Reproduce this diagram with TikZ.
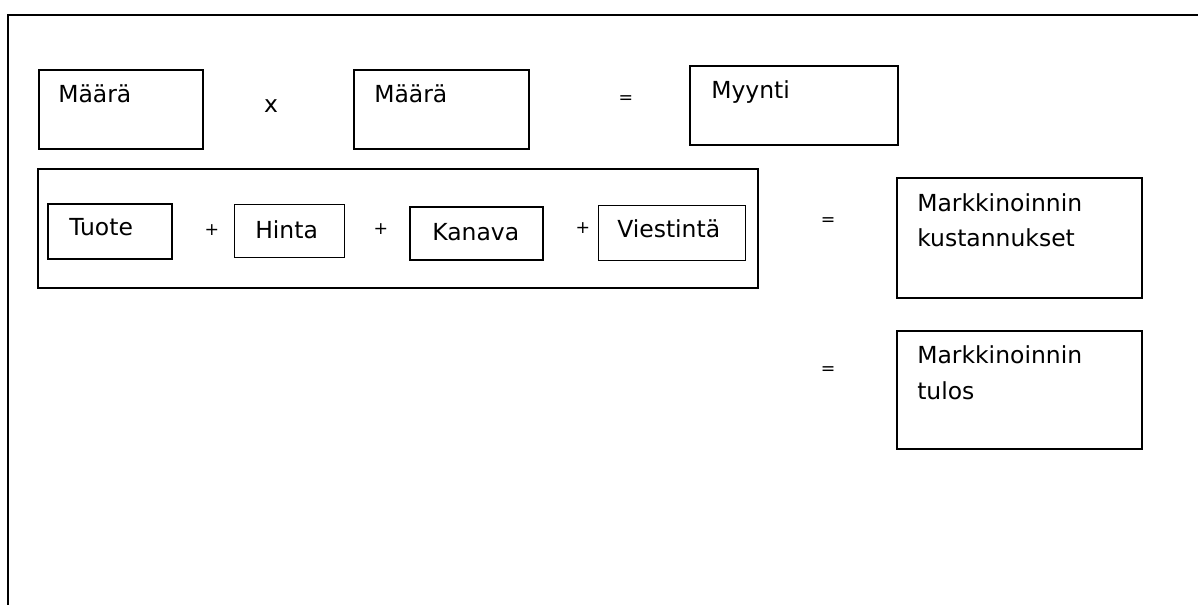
\documentclass[tikz,border=0pt]{standalone}
\usepackage{fontspec}
\setmainfont{DejaVu Sans}
\begin{document}
\begin{tikzpicture}[x=0.75pt,y=-0.75pt,
  box/.style={draw,line width=1.3pt,rectangle,inner sep=0pt,anchor=north west},
  thinbox/.style={draw,line width=0.8pt,rectangle,inner sep=0pt,anchor=north west},
  txt/.style={inner sep=0pt,anchor=base west,font=\fontsize{17.6}{21}\selectfont},
  op/.style={inner sep=0pt,anchor=center,font=\fontsize{13}{15}\selectfont},
  bigop/.style={inner sep=0pt,anchor=base,font=\fontsize{17.6}{21}\selectfont}]
\useasboundingbox (0,0) rectangle (1198,605);
% outer frame
\coordinate (fa) at (8,605);
\coordinate (fb) at (8,15);
\coordinate (fc) at (1198,15);
\draw[line width=1.6pt] (fa) -- (fb) -- (fc);
% top row
\node[box,minimum width=123pt,minimum height=59.25pt] (m1) at (38,69) {};
\node[txt] (m1t) at (58,103) {Määrä};
\node[bigop] (xop) at (271,113) {x};
\node[box,minimum width=131.25pt,minimum height=59.25pt] (m2) at (353,69) {};
\node[txt] (m2t) at (374,103) {Määrä};
\node[op] (eq1) at (626,100) {=};
\node[box,minimum width=156pt,minimum height=59.25pt] (my) at (689,65) {};
\node[txt] (myt) at (711,99) {Myynti};
% middle group
\node[box,minimum width=540pt,minimum height=89.25pt] (grp) at (37,168) {};
\node[box,minimum width=93pt,minimum height=41.25pt] (tu) at (47,203) {};
\node[txt] (tut) at (69,236) {Tuote};
\node[op] (p1) at (212,230) {+};
\node[thinbox,minimum width=82.5pt,minimum height=39.75pt] (hi) at (234,204) {};
\node[txt] (hit) at (255,239) {Hinta};
\node[op] (p2) at (381,229) {+};
\node[box,minimum width=99.75pt,minimum height=39.75pt] (ka) at (409,206) {};
\node[txt] (kat) at (432,241) {Kanava};
\node[op] (p3) at (583,228) {+};
\node[thinbox,minimum width=110.25pt,minimum height=41.25pt] (vi) at (598,205) {};
\node[txt] (vit) at (617,238) {Viestintä};
\node[op] (eq2) at (828,222) {=};
\node[box,minimum width=183.75pt,minimum height=90pt] (mk) at (896,177) {};
\node[txt] (mkt1) at (917,212) {Markkinoinnin};
\node[txt] (mkt2) at (917,247) {kustannukset};
% bottom
\node[op] (eq3) at (828,371) {=};
\node[box,minimum width=183.75pt,minimum height=88.5pt] (mt) at (896,330) {};
\node[txt] (mtt1) at (917,364) {Markkinoinnin};
\node[txt] (mtt2) at (917,399) {tulos};
\end{tikzpicture}
\end{document}
